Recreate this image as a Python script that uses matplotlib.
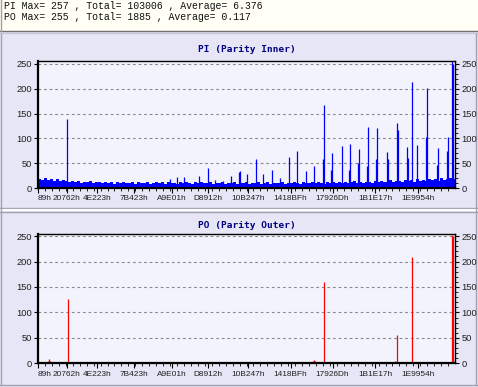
import matplotlib
matplotlib.use('Agg')
import matplotlib.pyplot as plt
from matplotlib.patches import Rectangle
import numpy as np

# summary lines at the top
summary = ["PI Max= 257 , Total= 103006 , Average= 6.376",
           "PO Max= 255 , Total= 1885 , Average= 0.117"]

# x axis: sample position (0..417) and sector labels
x_tick_pos = [0, 28.7, 58.7, 95.8, 134, 170.3, 210, 252.5, 294.5, 337, 379.5]
x_tick_lab = ['89h', '20762h', '4E223h', '7B423h', 'A9E01h', 'D8912h',
              '10B247h', '1418BFh', '17926Dh', '1B1E17h', '1E9954h']

# PI background noise level, one value per 3 samples
pi_base = [19, 17, 20, 16, 18, 15, 19, 14, 17, 15,
           13, 15, 12, 14, 11, 13, 12, 14, 11, 12,
           12, 10, 13, 11, 12, 9, 13, 10, 12, 11,
           10, 13, 9, 12, 11, 10, 13, 9, 11, 12,
           10, 12, 9, 13, 10, 11, 9, 12, 10, 13,
           11, 9, 12, 10, 13, 11, 10, 12, 9, 11,
           10, 12, 9, 11, 10, 13, 9, 11, 10, 12,
           9, 11, 10, 12, 9, 10, 12, 9, 11, 10,
           10, 12, 9, 11, 10, 12, 11, 9, 12, 10,
           11, 13, 10, 12, 11, 9, 12, 10, 13, 11,
           12, 10, 13, 11, 12, 14, 11, 13, 10, 12,
           13, 11, 14, 12, 15, 12, 13, 16, 12, 14,
           15, 13, 17, 14, 16, 13, 18, 15, 17, 14,
           18, 16, 19, 15, 20, 17, 18, 21, 19]

# PI spikes (position, value)
pi_spike_x = [29, 132, 139, 146, 161, 169.5, 177, 185, 193, 201, 202, 209,
              218, 225, 234, 242, 251, 259, 268, 276, 285, 286, 293, 294,
              304, 311, 312, 320, 321, 329, 330, 338, 339, 349, 350, 359,
              360, 369, 370, 374, 379, 388, 389, 399, 400, 409, 410, 414, 415]
pi_spike_y = [140, 19, 22, 23, 24, 40, 17, 14, 25, 33, 34, 28,
              58, 28, 36, 20, 62, 74, 34, 45, 58, 167, 36, 71,
              85, 36, 89, 50, 78, 45, 122, 58, 120, 72, 58, 132,
              116, 83, 60, 214, 86, 102, 201, 46, 80, 75, 103, 255, 250]

# PO spikes (position, value)
po_spike_x = [10, 11, 12, 29.7, 34, 51, 78, 98, 206, 275, 276, 277, 278,
              286, 297, 306, 355, 356, 357, 358, 359, 370, 373.7, 413.7, 415.3]
po_spike_y = [5, 8, 4, 126, 3, 3, 3, 3, 3, 4, 6, 5, 3,
              160, 3, 3, 3, 3, 4, 3, 56, 3, 208, 253, 250]

W, H = 478, 387
fig = plt.figure(figsize=(W / 100, H / 100), dpi=100)
fig.patch.set_facecolor('#e6e6f6')

# frame / background drawn in pixel coordinates
bg = fig.add_axes([0, 0, 1, 1], zorder=-10)
bg.set_xlim(0, W)
bg.set_ylim(H, 0)
bg.axis('off')
bg.add_patch(Rectangle((0, 0), W, 31, facecolor='#fffff6', edgecolor='none'))
bg.plot([0, W], [31, 31], color='#707070', lw=1)
bg.plot([0, W], [33, 33], color='#c8c8d8', lw=1)
bg.plot([1, 1], [0, 31], color='#a0a0a0', lw=1)
bg.plot([0, W], [207.5, 207.5], color='#a0a0b0', lw=1)
bg.plot([0, W], [209.5, 209.5], color='#ffffff', lw=1.5)
bg.plot([0, W], [211.5, 211.5], color='#a0a0b0', lw=1)
bg.plot([0, W], [384.5, 384.5], color='#a0a0b0', lw=1)
bg.plot([1.5, 1.5], [34, 385], color='#a0a0b0', lw=1)
bg.plot([476.5, 476.5], [34, 385], color='#a0a0b0', lw=1)

for i, line in enumerate(summary):
    fig.text(4 / W, 1 - (5.7 + 11 * i) / H, line, family='Liberation Mono',
             fontsize=7.1, color='#101010', va='center', ha='left')


def setup(ax, ymax):
    ax.set_facecolor('#f3f3fd')
    ax.set_xlim(0, 417)
    ax.set_ylim(0, ymax)
    ax.set_yticks([0, 50, 100, 150, 200, 250])
    ax.set_yticks(np.arange(0, 251, 10), minor=True)
    ax.set_xticks(x_tick_pos)
    ax.set_xticklabels(x_tick_lab, family='Liberation Sans')
    ax.set_xticks(np.arange(0, 417, 6.95), minor=True)
    first = ax.xaxis.get_ticklabels()[0]
    first.set_ha('left')
    for y in [50, 100, 150, 200, 250]:
        ax.axhline(y, color='#8a8a8a', lw=0.8, dashes=(2.5, 2.5), zorder=1)
    ax.tick_params(axis='y', which='major', direction='out', length=3,
                   width=0.8, labelsize=6.7, pad=1.5, right=True,
                   labelright=True, labelcolor='#202020')
    ax.tick_params(axis='y', which='minor', left=False, right=True,
                   length=1.8, width=0.6)
    ax.tick_params(axis='x', which='major', direction='out', length=3.5,
                   width=0.8, labelsize=5.95, pad=1.8, labelcolor='#202020')
    ax.tick_params(axis='x', which='minor', length=2, width=0.6)
    for lab in ax.get_yticklabels():
        lab.set_family('Liberation Sans')
    ax.spines['left'].set_linewidth(1.6)
    ax.spines['bottom'].set_linewidth(1.6)
    ax.spines['top'].set_linewidth(1.0)
    ax.spines['right'].set_linewidth(1.0)
    for s in ax.spines.values():
        s.set_zorder(5)


# PI panel
ax1 = fig.add_axes([38 / W, 1 - 188 / H, 417 / W, 127 / H])
setup(ax1, 256)
ax1.bar(np.arange(len(pi_base)) * 3, pi_base, width=3, align='edge',
        color='#0000ff', linewidth=0, zorder=3)
ax1.vlines(pi_spike_x, 0, pi_spike_y, color='#0000ff', lw=0.9, zorder=3)
fig.text(247 / W, 1 - 50 / H, 'PI (Parity Inner)', family='DejaVu Sans Mono',
         weight='bold', fontsize=6.8, color='#000080', ha='center', va='center')

# PO panel
ax2 = fig.add_axes([38 / W, 1 - 363.3 / H, 417 / W, 129 / H])
setup(ax2, 253.5)
ax2.vlines(po_spike_x, 0, po_spike_y, color='#ff0000', lw=0.9, zorder=3)
fig.text(247 / W, 1 - 225 / H, 'PO (Parity Outer)', family='DejaVu Sans Mono',
         weight='bold', fontsize=6.8, color='#000080', ha='center', va='center')

fig.savefig('out.png', dpi=100, facecolor=fig.get_facecolor())
